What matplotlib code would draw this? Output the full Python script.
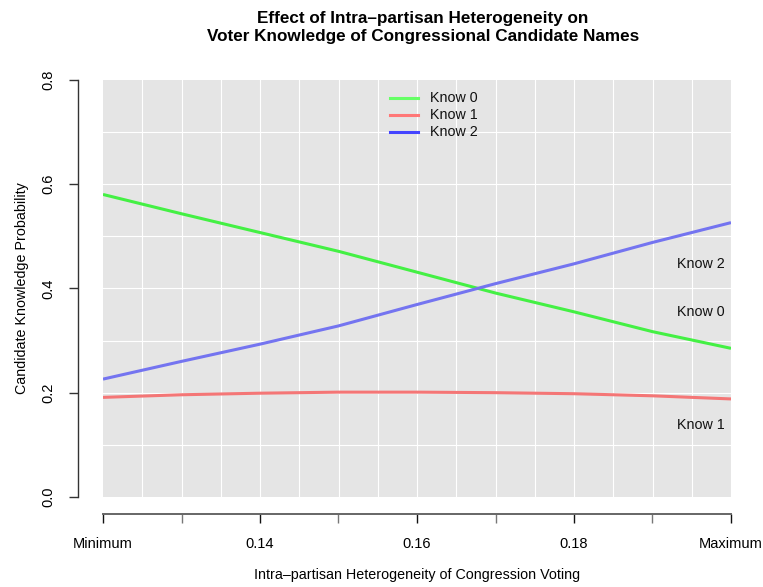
import matplotlib
matplotlib.use('Agg')
import matplotlib.pyplot as plt
import numpy as np

plt.rcParams['font.family'] = ['Liberation Sans', 'DejaVu Sans']

# predicted probabilities over the heterogeneity range
hetero = [0.12, 0.13, 0.14, 0.15, 0.16, 0.17, 0.18, 0.19, 0.20]
know0 = [0.580, 0.543, 0.507, 0.471, 0.431, 0.391, 0.355, 0.317, 0.285]
know1 = [0.191, 0.196, 0.199, 0.201, 0.201, 0.200, 0.198, 0.194, 0.188]
know2 = [0.226, 0.260, 0.293, 0.328, 0.369, 0.409, 0.447, 0.488, 0.526]

series_names = ['Know 0', 'Know 1', 'Know 2']
line_colors = ['#44F044', '#F47676', '#7474F0']
legend_colors = ['#66FF66', '#FF7777', '#4444FF']

x_ticks = [0.12, 0.14, 0.16, 0.18, 0.20]
x_ticklabels = ['Minimum', '0.14', '0.16', '0.18', 'Maximum']
x_minor = [0.13, 0.15, 0.17, 0.19]
y_ticks = [0.0, 0.2, 0.4, 0.6, 0.8]

end_labels = {'Know 2': 0.446, 'Know 0': 0.354, 'Know 1': 0.138}

fig = plt.figure(figsize=(7.63, 5.87), dpi=100)
ax = fig.add_axes([103 / 763, 1 - 497 / 587, 628 / 763, 417.3 / 587])
ax.set_facecolor('#E5E5E5')
ax.set_xlim(0.12, 0.20)
ax.set_ylim(0.0, 0.8)

# white grid on grey background
for gx in np.arange(0.125, 0.2, 0.005):
    ax.axvline(gx, color='white', lw=0.8, zorder=1)
for gy in np.arange(0.1, 0.8, 0.1):
    ax.axhline(gy, color='white', lw=0.8, zorder=1)

for vals, c in zip([know0, know1, know2], line_colors):
    ax.plot(hetero, vals, color=c, lw=2.2, zorder=3, solid_capstyle='butt')

for name, yv in end_labels.items():
    ax.text(0.1992, yv, name, ha='right', va='center', fontsize=10.3, color='#111111')

# legend drawn by hand inside the plot
for i, (name, c) in enumerate(zip(series_names, legend_colors)):
    ly = 97.7 + i * 17
    fig.add_artist(plt.Line2D([390 / 763, 418 / 763], [1 - ly / 587, 1 - ly / 587],
                              color=c, lw=2.2, transform=fig.transFigure))
    fig.text(430 / 763, 1 - ly / 587, name, ha='left', va='center', fontsize=10.3, color='#111111')

# R-style detached axes
for s in ['top', 'right']:
    ax.spines[s].set_visible(False)
ax.spines['left'].set_position(('outward', 17.8))
ax.spines['bottom'].set_position(('outward', 12.2))
ax.spines['left'].set_bounds(0.0, 0.8)
ax.spines['bottom'].set_bounds(0.12, 0.20)
ax.spines['left'].set_color('#333333')
ax.spines['bottom'].set_color('#666666')
ax.spines['left'].set_linewidth(1.0)
ax.spines['bottom'].set_linewidth(1.4)

ax.set_xticks(x_ticks)
ax.set_xticklabels(x_ticklabels, fontsize=10.5)
ax.set_xticks(x_minor, minor=True)
ax.tick_params(axis='x', which='major', length=6.5, width=1.0, color='#111111', pad=10)
ax.tick_params(axis='x', which='minor', length=6.5, width=1.0, color='#777777')
ax.set_yticks(y_ticks)
ax.set_yticklabels(['0.0', '0.2', '0.4', '0.6', '0.8'], fontsize=10.5, rotation=90, va='center')
ax.tick_params(axis='y', length=6.5, width=1.0, color='#333333', pad=10)

ax.set_xlabel('Intra\u2013partisan Heterogeneity of Congression Voting', fontsize=10.3, labelpad=12)
ax.set_ylabel('Candidate Knowledge Probability', fontsize=10.3, labelpad=9)

fig.text(423 / 763, 1 - 27.5 / 587,
         'Effect of Intra\u2013partisan Heterogeneity on\nVoter Knowledge of Congressional Candidate Names',
         ha='center', va='center', fontsize=12.3, fontweight='bold', linespacing=1.2)

fig.savefig('out.png', dpi=100)
